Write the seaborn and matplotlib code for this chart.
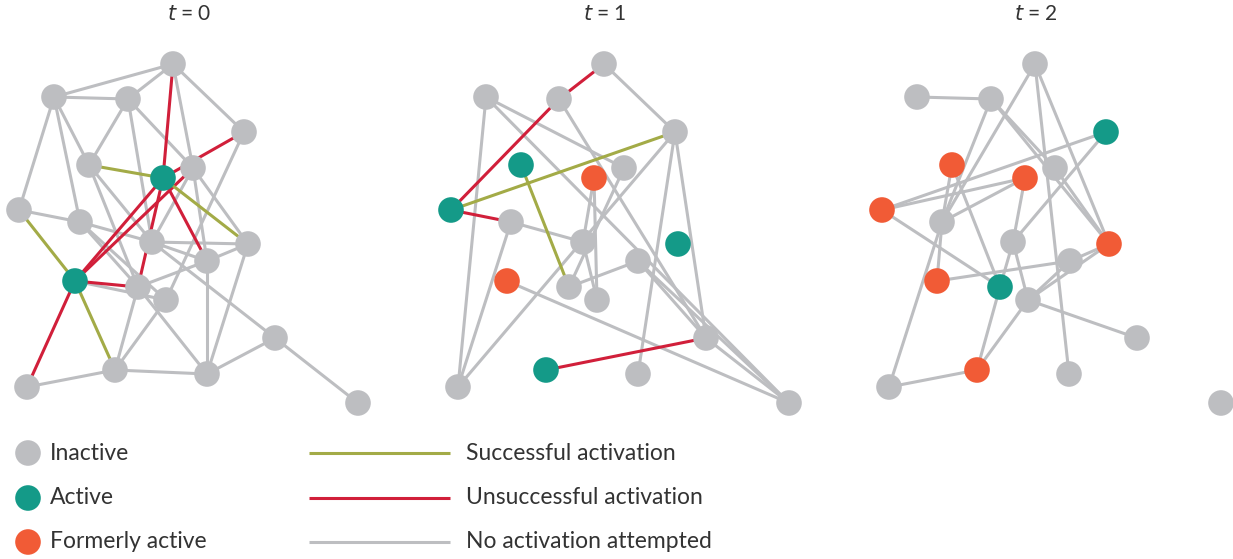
"""
Independent cascade diffusion on a network at t = 0, 1, 2
"""

import pandas as pd
import numpy as np
import matplotlib.pyplot as plt
import seaborn as sns

sns.set_theme(style="white")
plt.rcParams['font.family'] = ['Lato', 'DejaVu Sans']

# Colours
GRAY = '#BDBEC1'
GREEN = '#149A88'
ORANGE = '#F15B36'
RED = '#D11F3A'
OLIVE = '#A3AB47'
TEXT = '#333333'

state_colors = {'inactive': GRAY, 'active': GREEN, 'former': ORANGE}
edge_colors = {'success': OLIVE, 'fail': RED, 'none': GRAY}

# ---- Panel t = 0 ----
p0_names = list("ABCDEFGHIJKLMNOPQRST")
p0_x = [173, 54, 128, 244, 89, 163, 193, 19, 80, 152, 248, 207, 75, 138, 166, 275, 115, 207, 27, 358]
p0_y = [64, 97, 99, 132, 165, 178, 168, 210, 222, 242, 244, 261, 281, 287, 300, 338, 370, 374, 387, 403]
p0_state = ['inactive'] * 20
p0_state[5] = 'active'
p0_state[12] = 'active'
p0_none = ["AB", "BC", "CA", "AD", "AG", "BH", "BE", "BI", "CE", "CJ", "CG", "DO", "GJ",
           "GK", "GL", "HI", "IJ", "IN", "IO", "EJ", "EN", "NR", "JK", "JL", "JP", "LK", "LN",
           "LR", "KR", "NQ", "OQ", "QR", "QS", "RP", "PT", "MO"]
p0_fail = ["AF", "DF", "MF", "MG", "FL", "FN", "MN", "MS"]
p0_success = ["EF", "FK", "HM", "MQ"]

# ---- Panel t = 1 ----
p1_names = list("ABCDEFGHIJKLMNOPQRST")
p1_x = [604, 486, 559, 675, 521, 624, 594, 451, 511, 583, 678, 638, 507, 569, 597, 706, 546, 638, 458, 789]
p1_y = [64, 97, 99, 132, 165, 168, 178, 210, 222, 242, 244, 261, 281, 287, 300, 338, 370, 374, 387, 403]
p1_state = ['inactive'] * 20
for i in [4, 7, 10, 16]:
    p1_state[i] = 'active'
for i in [6, 12]:
    p1_state[i] = 'former'
p1_none = ["AD", "BS", "BF", "BT", "CP", "IJ", "IS", "DS", "DR", "DP", "FN", "GJ", "GO",
           "JO", "NL", "LT", "LP", "MT", "PT"]
p1_fail = ["AC", "CH", "HI", "QP"]
p1_success = ["HD", "EN"]

# ---- Panel t = 2 ----
p2_names = list("ABCDEFGHIJKLMNOPQRST")
p2_x = [1035, 917, 991, 1106, 952, 1055, 1025, 882, 942, 1013, 1109, 1070, 937, 1000, 1028, 1137, 977, 1069, 889, 1221]
p2_y = [64, 97, 99, 132, 165, 168, 178, 210, 222, 242, 244, 261, 281, 287, 300, 338, 370, 374, 387, 403]
p2_state = ['inactive'] * 20
for i in [3, 13]:
    p2_state[i] = 'active'
for i in [4, 6, 7, 10, 12, 16]:
    p2_state[i] = 'former'
p2_none = ["BC", "CI", "CF", "CK", "AI", "AR", "AK", "DH", "DJ", "EI", "EN", "GH", "GI",
           "GJ", "HN", "IS", "IM", "JN", "JO", "NQ", "ML", "LK", "LO", "OK", "OQ", "OP",
           "QS", "FK"]
p2_fail = []
p2_success = []

panels = [
    (p0_names, p0_x, p0_y, p0_state, p0_none, p0_fail, p0_success),
    (p1_names, p1_x, p1_y, p1_state, p1_none, p1_fail, p1_success),
    (p2_names, p2_x, p2_y, p2_state, p2_none, p2_fail, p2_success),
]
titles = ["0", "1", "2"]
title_x = [189, 605, 1036]

legend_nodes = ['Inactive', 'Active', 'Formerly active']
legend_node_states = ['inactive', 'active', 'former']
legend_edges = ['Successful activation', 'Unsuccessful activation', 'No activation attempted']
legend_edge_types = ['success', 'fail', 'none']
legend_y = [453, 498, 542]

fig = plt.figure(figsize=(12.33, 5.59), dpi=100)
ax = fig.add_axes([0, 0, 1, 1])
ax.set_xlim(0, 1233)
ax.set_ylim(559, 0)
ax.axis('off')

frames = []
for names, xs, ys, states, none_e, fail_e, succ_e in panels:
    pos = dict(zip(names, zip(xs, ys)))
    for kind, edges in [('none', none_e), ('fail', fail_e), ('success', succ_e)]:
        for e in edges:
            (x1, y1), (x2, y2) = pos[e[0]], pos[e[1]]
            ax.plot([x1, x2], [y1, y2], color=edge_colors[kind], lw=2.2,
                    solid_capstyle='butt', zorder=1 if kind == 'none' else 2)
    frames.append(pd.DataFrame({'x': xs, 'y': ys, 'state': states}))

nodes = pd.concat(frames, ignore_index=True)
sns.scatterplot(data=nodes, x='x', y='y', hue='state', palette=state_colors,
                s=340, linewidth=0, legend=False, ax=ax, zorder=3)

for t, tx in zip(titles, title_x):
    ax.text(tx, 14, f"$t$ = {t}", ha='center', va='center', fontsize=15, color=TEXT)

# Legend drawn by hand
leg = pd.DataFrame({'x': [28] * 3, 'y': legend_y, 'state': legend_node_states})
sns.scatterplot(data=leg, x='x', y='y', hue='state', palette=state_colors,
                s=340, linewidth=0, legend=False, ax=ax, zorder=3)
for label, y in zip(legend_nodes, legend_y):
    ax.text(50, y, label, ha='left', va='center', fontsize=16.5, color=TEXT)
for label, kind, y in zip(legend_edges, legend_edge_types, legend_y):
    ax.plot([309, 450], [y, y], color=edge_colors[kind], lw=2.2, solid_capstyle='butt')
    ax.text(466, y, label, ha='left', va='center', fontsize=16.5, color=TEXT)

ax.set_xlim(0, 1233)
ax.set_ylim(559, 0)
ax.set_xlabel('')
ax.set_ylabel('')

fig.savefig('out.png', dpi=100)
plt.close(fig)
